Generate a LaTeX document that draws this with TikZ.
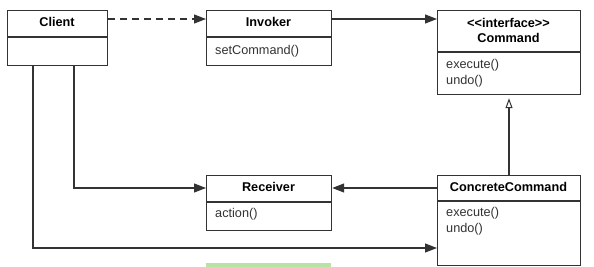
\documentclass[tikz,border=0pt]{standalone}
\usepackage{fontspec}
\setmainfont{Liberation Sans}
\usetikzlibrary{arrows.meta}
\definecolor{ln}{HTML}{333333}
\definecolor{grn}{HTML}{B7E4A3}
\tikzset{
  x=1pt,y=-1pt,
  umlbox/.style={draw=ln,line width=1.2pt,fill=white,anchor=north west,inner sep=0pt},
  hdr/.style={font=\bfseries\fontsize{12.7}{14.5}\selectfont,text=black,inner sep=0pt,align=center},
  meth/.style={font=\fontsize{12.7}{16}\selectfont,text=ln,inner sep=0pt,anchor=west,align=left},
  conn/.style={draw=ln,line width=1.2pt},
  tri/.style={-{Triangle[length=12pt,width=9pt]}},
  otri/.style={-{Triangle[open,length=10pt,width=7pt,line width=1pt]},shorten >=3pt},
}
\begin{document}
\begin{tikzpicture}
\useasboundingbox (0,0) rectangle (594,267);
\fill[grn] (206,263) rectangle (331,267);
% boxes
\node[umlbox,minimum width=100pt,minimum height=55pt] (client) at (7,10) {};
\node[umlbox,minimum width=125pt,minimum height=55pt] (invoker) at (206,10) {};
\node[umlbox,minimum width=143pt,minimum height=84pt] (command) at (437,10) {};
\node[umlbox,minimum width=125pt,minimum height=55pt] (receiver) at (206,175) {};
\node[umlbox,minimum width=143pt,minimum height=90pt] (concrete) at (437,175) {};
% header lines
\draw[conn] (7,37) -- (107,37);
\draw[conn] (206,37) -- (331,37);
\draw[conn] (437,52) -- (580,52);
\draw[conn] (206,202) -- (331,202);
\draw[conn] (437,201) -- (580,201);
% texts
\node[hdr] (clientT) at (57,22) {Client};
\node[hdr] (invokerT) at (268.5,22) {Invoker};
\node[hdr] (commandT) at (508.5,30.5) {<{}<interface>{}>\\Command};
\node[hdr] (receiverT) at (268.5,187) {Receiver};
\node[hdr] (concreteT) at (508.5,187) {ConcreteCommand};
\node[meth] (invokerM) at (215,51) {setCommand()};
\node[meth] (commandM) at (446,73) {execute()\\undo()};
\node[meth] (receiverM) at (215,214) {action()};
\node[meth] (concreteM) at (446,221) {execute()\\undo()};
% connectors
\draw[conn,tri,dash pattern=on 7pt off 5pt] (client.east |- 0,19) -- (invoker.west |- 0,19);
\draw[conn,tri] (invoker.east |- 0,19) -- (command.west |- 0,19);
\draw[conn,otri] (concrete.north -| 509,0) -- (command.south -| 509,0);
\draw[conn,tri] (concrete.west |- 0,188) -- (receiver.east |- 0,188);
\draw[conn,tri] (client.south -| 74,0) -- (74,188) -- (receiver.west |- 0,188);
\draw[conn,tri] (client.south -| 33,0) -- (33,248) -- (concrete.west |- 0,248);
\end{tikzpicture}
\end{document}
